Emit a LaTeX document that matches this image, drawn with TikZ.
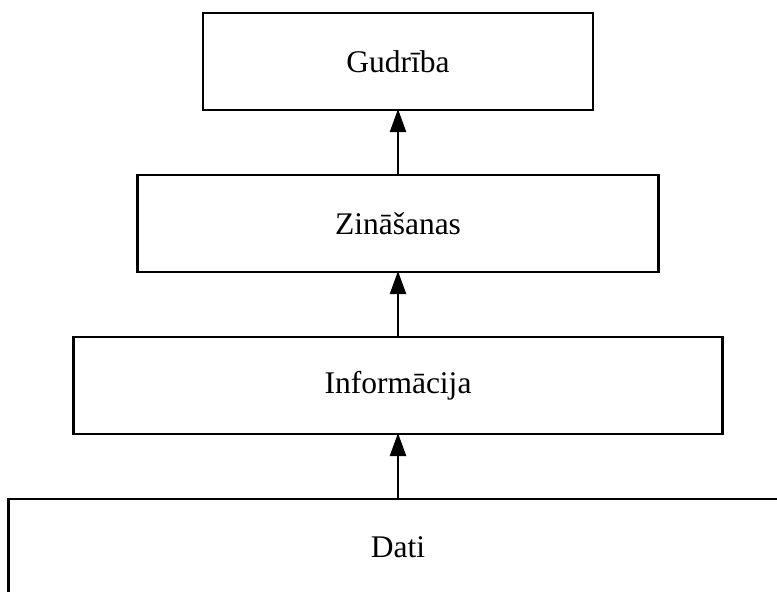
\documentclass[tikz,border=0pt]{standalone}
\usepackage{fontspec}
\setmainfont{Liberation Serif}
\usetikzlibrary{arrows.meta}

\tikzset{
  level/.style={draw,line width=2.2pt,minimum height=97pt,inner sep=0pt,
    outer sep=0pt,font=\fontsize{31.5}{36}\selectfont},
  up/.style={-{Triangle[length=23pt,width=16pt]},line width=2.2pt,
    shorten >=-1pt}
}

\begin{document}
\begin{tikzpicture}[x=1pt,y=-1pt]
\useasboundingbox (0,0) rectangle (777,592);
\clip (0,0) rectangle (777,592);

\node[level,minimum width=390pt] at (398,61.5) (gudr) {Gudrība};
\node[level,minimum width=521pt] at (398,223.5) (zin) {Zināšanas};
\node[level,minimum width=649pt] at (398,385.5) (info) {Informācija};
\node[level,minimum width=779pt] at (398,547.5) (dati) {Dati};

\draw[up] (dati.north) -- (info.south);
\draw[up] (info.north) -- (zin.south);
\draw[up] (zin.north) -- (gudr.south);
\end{tikzpicture}
\end{document}
